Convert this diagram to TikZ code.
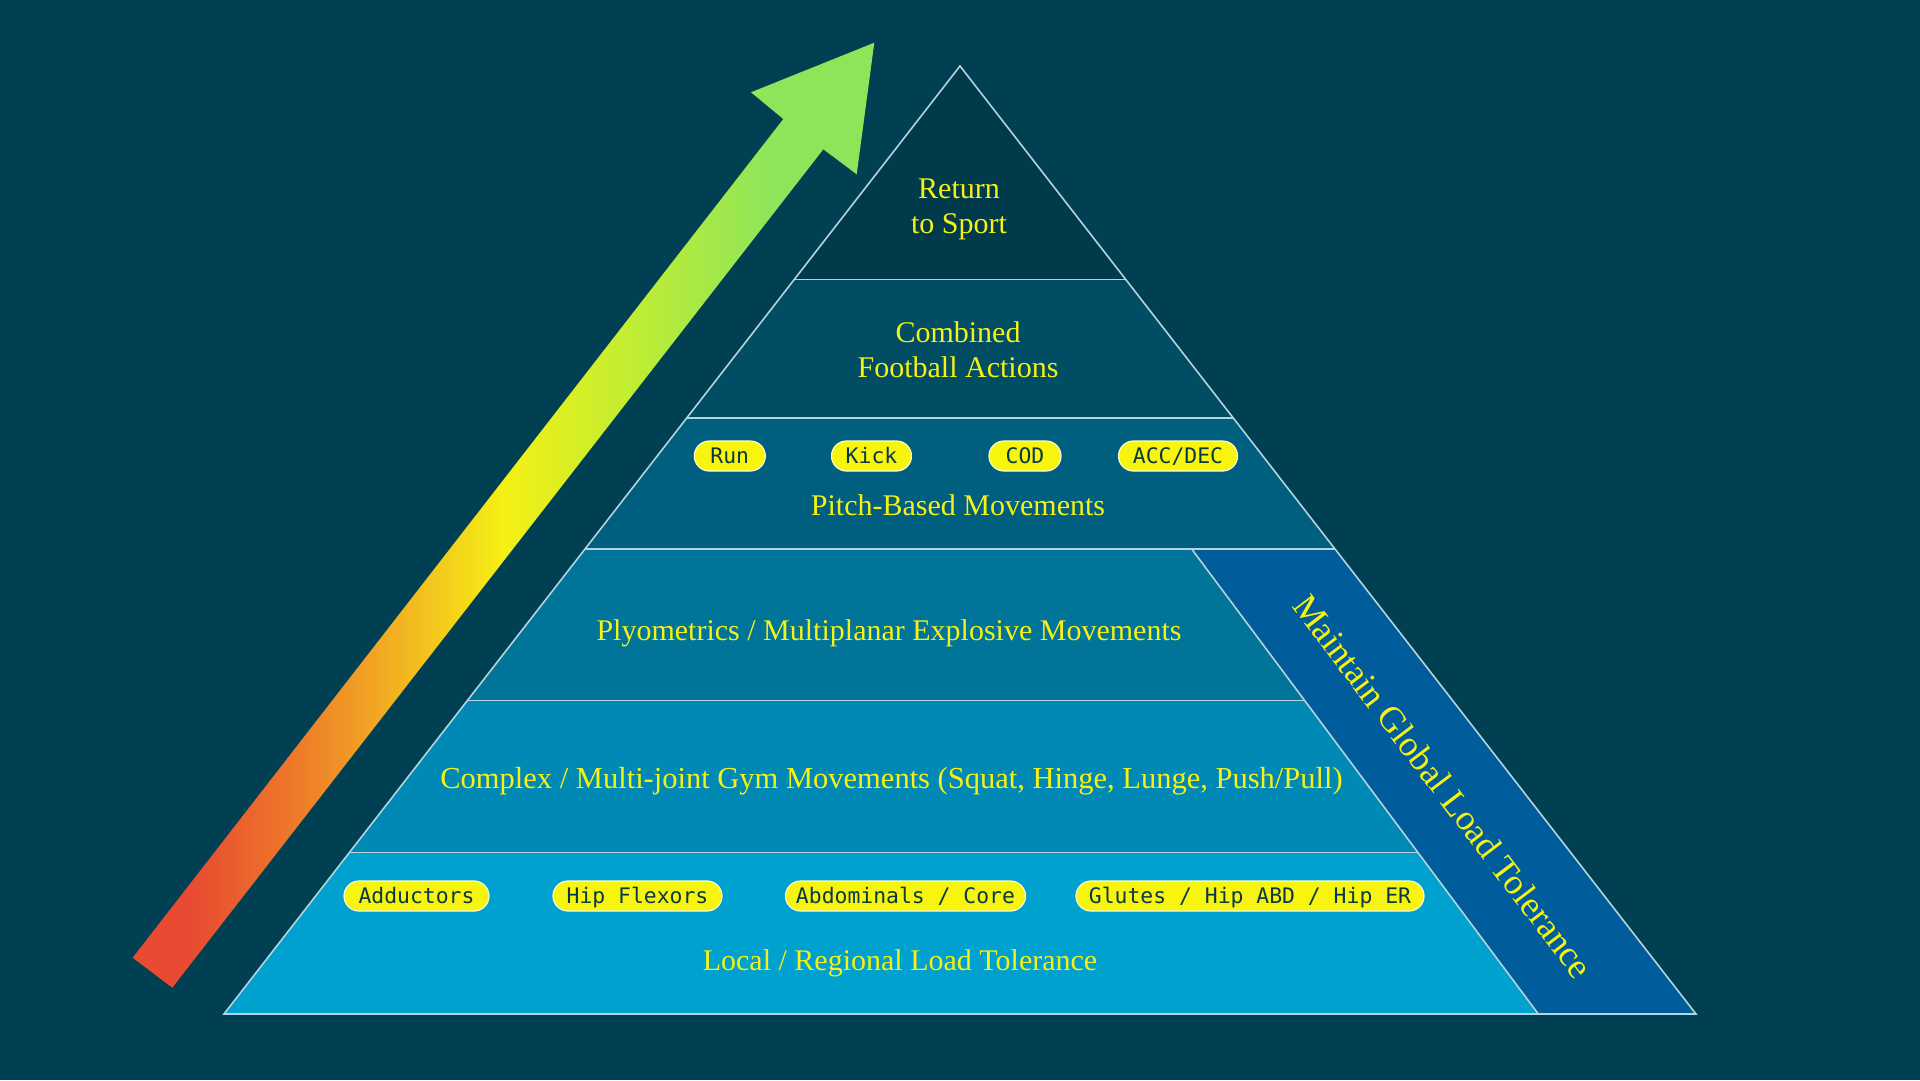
\documentclass[tikz,border=0pt]{standalone}
\usepackage{fontspec}
\setmainfont{Liberation Serif}
\newfontfamily\pillfont{DejaVu Sans Mono}
\definecolor{bgC}{HTML}{004052}
\definecolor{layA}{HTML}{013A4B}
\definecolor{layB}{HTML}{004D64}
\definecolor{layC}{HTML}{005F7E}
\definecolor{layD}{HTML}{007499}
\definecolor{layE}{HTML}{0089B5}
\definecolor{layF}{HTML}{00A0CF}
\definecolor{stripC}{HTML}{005C9A}
\definecolor{lineC}{HTML}{B5D3DD}
\definecolor{txtY}{HTML}{F5F214}
\definecolor{pillY}{HTML}{F7F40E}
\definecolor{pillT}{HTML}{0B3942}
\definecolor{arrRed}{HTML}{E84B31}
\definecolor{arrOrange}{HTML}{EE7A2A}
\definecolor{arrAmber}{HTML}{F2B421}
\definecolor{arrYellow}{HTML}{F5F014}
\definecolor{arrLime}{HTML}{C4EE30}
\definecolor{arrGreen}{HTML}{8EE55A}
\pgfdeclarehorizontalshading{arrowgrad}{100bp}{color(0bp)=(arrRed); color(25bp)=(arrRed); color(29bp)=(arrRed); color(36bp)=(arrOrange); color(43bp)=(arrAmber); color(50bp)=(arrYellow); color(58bp)=(arrLime); color(68bp)=(arrGreen); color(75bp)=(arrGreen); color(100bp)=(arrGreen)}
\tikzset{
  sepline/.style={draw=lineC, line width=1.6pt},
  lbl/.style={text=txtY, font=\fontsize{30}{35}\selectfont, inner sep=0pt},
  pill/.style={fill=pillY, draw=white!80!pillY, line width=1.2pt, rounded corners=15pt,
    minimum height=30pt, inner sep=0pt, text height=15.6pt, text depth=0pt,
    text=pillT, font=\pillfont\fontsize{21.4}{24}\selectfont},
}
\begin{document}
\begin{tikzpicture}[x=1pt,y=-1pt]
\fill[bgC] (0,0) rectangle (1920,1080);
\useasboundingbox (0,0) rectangle (1920,1080);

% pyramid layers
\fill[layA] (960,66) -- (1125.6,279.3) -- (794.4,279.3) -- cycle;
\fill[layB] (794.4,279.3) -- (1125.6,279.3) -- (1233.3,418) -- (686.7,418) -- cycle;
\fill[layC] (686.7,418) -- (1233.3,418) -- (1335,549) -- (585,549) -- cycle;
\fill[layD] (585,549) -- (1191.7,549) -- (1304.8,700.5) -- (467.4,700.5) -- cycle;
\fill[layE] (467.4,700.5) -- (1304.8,700.5) -- (1418.3,852.5) -- (349.4,852.5) -- cycle;
\fill[layF] (349.4,852.5) -- (1418.3,852.5) -- (1538.3,1014) -- (224,1014) -- cycle;
\fill[stripC] (1191.7,549) -- (1335,549) -- (1696,1014) -- (1538.3,1014) -- cycle;

% lines
\draw[sepline, line join=miter] (960,66) -- (1696,1014) -- (224,1014) -- cycle;
\draw[sepline] (794.4,279.3) -- (1125.6,279.3);
\draw[sepline] (686.7,418) -- (1233.3,418);
\draw[sepline] (585,549) -- (1335,549);
\draw[sepline] (467.4,700.5) -- (1304.8,700.5);
\draw[sepline] (349.4,852.5) -- (1418.3,852.5);
\draw[sepline] (1191.7,549) -- (1538.3,1014);

% arrow
\shade[shading=arrowgrad, shading angle=0]
  (132.7,957.7) -- (783.3,119) -- (751,92.3) -- (874.3,42.7) -- (856.7,174.3)
  -- (823.3,149.3) -- (172.3,987.7) -- cycle;

% labels
\node[lbl, align=center] (rts) at (959,209.5) {Return\\to Sport};
\node[lbl, align=center] (cfa) at (958,349.5) {Combined\\Football Actions};
\node[lbl, anchor=base] (pbm) at (958,515) {Pitch-Based Movements};
\node[lbl, anchor=base] (plyo) at (889,640.7) {Plyometrics / Multiplanar Explosive Movements};
\node[lbl, anchor=base, font=\fontsize{30.5}{35}\selectfont] (cmplx) at (891.5,788.3) {Complex / Multi-joint Gym Movements (Squat, Hinge, Lunge, Push/Pull)};
\node[lbl, anchor=base] (local) at (900,970) {Local / Regional Load Tolerance};
\node[lbl, font=\fontsize{36}{40}\selectfont, rotate=-52.8] (mglt) at (1443,786) {Maintain Global Load Tolerance};

% pills
\node[pill, minimum width=71pt] (run) at (729.8,456) {Run};
\node[pill, minimum width=80pt] (kick) at (871.5,456) {Kick};
\node[pill, minimum width=72pt] (cod) at (1025,456) {COD};
\node[pill, minimum width=119pt] (acc) at (1178,456) {ACC/DEC};
\node[pill, minimum width=145pt] (add) at (416.5,896) {Adductors};
\node[pill, minimum width=169pt] (hipf) at (637.5,896) {Hip Flexors};
\node[pill, minimum width=240pt] (abd) at (905.5,896) {Abdominals / Core};
\node[pill, minimum width=348pt] (glu) at (1250,896) {Glutes / Hip ABD / Hip ER};
\end{tikzpicture}
\end{document}
